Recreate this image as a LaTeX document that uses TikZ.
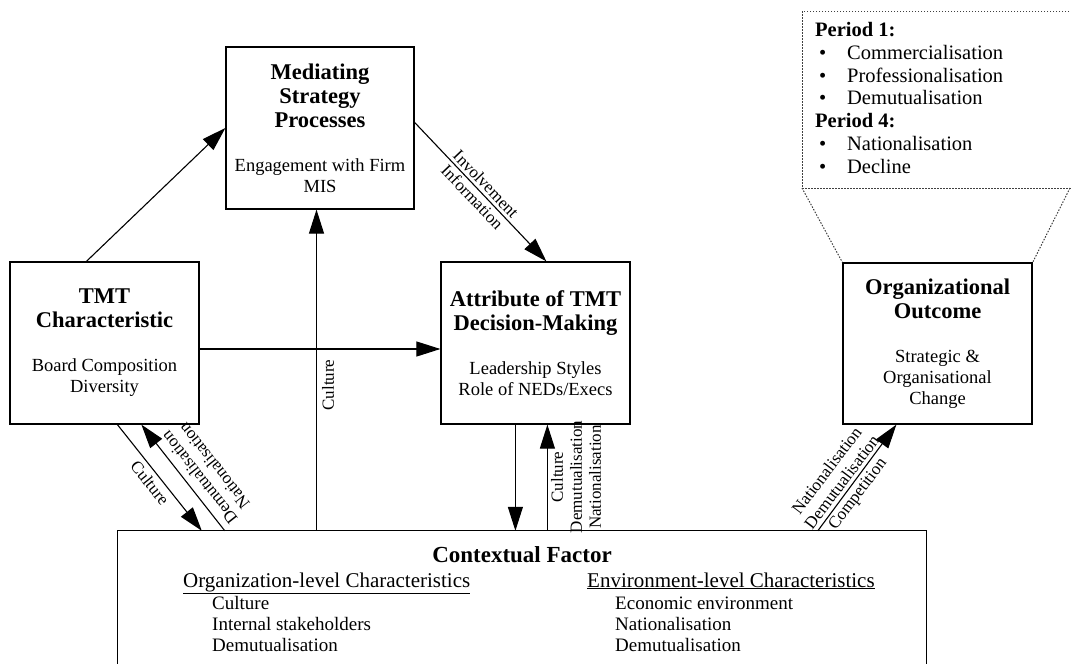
\documentclass[tikz,border=0pt]{standalone}
\usepackage{fontspec}
\setmainfont{Liberation Serif}
\usetikzlibrary{arrows.meta,calc}
\newcommand{\boxtitle}[1]{{\fontsize{22.5}{24}\selectfont\bfseries #1}}
\begin{document}
\begin{tikzpicture}[x=1pt,y=-1pt,
  box/.style={draw, line width=1.2pt, inner sep=0pt, align=center,
    minimum width=189pt, minimum height=162pt,
    font=\fontsize{18.5}{21}\selectfont},
  boxline/.style={line width=1.2pt},
  arr/.style={line width=1.1pt, -{Triangle[length=24pt,width=15pt]}},
  lab/.style={font=\fontsize{17}{19}\selectfont, align=center, inner sep=0pt},
  ctxtext/.style={font=\fontsize{19}{21}\selectfont, inner sep=0pt, anchor=base west},
  ctxhead/.style={font=\fontsize{21}{23}\selectfont, inner sep=0pt, anchor=base west},
  dotline/.style={line width=1pt, black!75, dash pattern=on 1.5pt off 1.5pt},
]
\useasboundingbox (0,0) rectangle (1071,664);

% boxes
\node[box] (tmt) at (104.5,343) {\boxtitle{TMT}\\[3pt]\boxtitle{Characteristic}\\[23pt]Board Composition\\Diversity};
\node[box, minimum width=188pt] (med) at (320,128) {\boxtitle{Mediating}\\[3pt]\boxtitle{Strategy}\\[3pt]\boxtitle{Processes}\\[23pt]Engagement with Firm\\MIS};
\node[box] (attr) at (535.5,343) {\boxtitle{Attribute of TMT}\\[3pt]\boxtitle{Decision-Making}\\[23pt]Leadership Styles\\Role of NEDs/Execs};
\node[box, minimum height=161pt] (out) at (937.5,343.5) {\boxtitle{Organizational}\\[3pt]\boxtitle{Outcome}\\[23pt]Strategic \&\\Organisational\\Change};

% contextual box (runs past the bottom edge)
\node[minimum width=808pt, minimum height=133pt, inner sep=0pt] (ctx) at (522,597.5) {};
\draw[boxline] (ctx.south west) -- (ctx.north west) -- (ctx.north east) -- (ctx.south east);
\node[inner sep=0pt, anchor=base, font=\fontsize{23}{25}\selectfont\bfseries] (ctxt) at (522,562) {Contextual Factor};
\node[ctxhead] (orgh) at (183,587) {\underline{Organization-level Characteristics}};
\node[ctxtext] (org1) at (212,609) {Culture};
\node[ctxtext] (org2) at (212,630) {Internal stakeholders};
\node[ctxtext] (org3) at (212,651) {Demutualisation};
\node[ctxhead] (envh) at (587,587) {\underline{Environment-level Characteristics}};
\node[ctxtext] (env1) at (615,609) {Economic environment};
\node[ctxtext] (env2) at (615,630) {Nationalisation};
\node[ctxtext] (env3) at (615,651) {Demutualisation};

% period call-out
\node[anchor=north west, inner sep=0pt, align=left, font=\fontsize{20.5}{22.8}\selectfont] (periods) at (815,22)
  {\textbf{Period 1:}\\
   \makebox[32pt][l]{\hspace{4pt}•}Commercialisation\\
   \makebox[32pt][l]{\hspace{4pt}•}Professionalisation\\
   \makebox[32pt][l]{\hspace{4pt}•}Demutualisation\\
   \textbf{Period 4:}\\
   \makebox[32pt][l]{\hspace{4pt}•}Nationalisation\\
   \makebox[32pt][l]{\hspace{4pt}•}Decline};
\coordinate (ptl) at (802,11);
\coordinate (ptr) at (1072,11);
\coordinate (pbl) at (802,188);
\coordinate (pbr) at (1070,188);
\coordinate (pbe) at (1072,188);
\draw[dotline] (ptr) -- (ptl) -- (pbl) -- (pbe);
\draw[dotline] (pbl) -- (out.north west);
\draw[dotline] (pbr) -- (out.north east);

% connectors
\draw[arr] ($(tmt.north west)+(77,0)$) -- (med.west);
\draw[arr] ($(med.north east)+(0,76)$) -- ($(attr.north west)+(106,0)$)
  node[lab, pos=0.49, rotate=-46.3] (invl) {Involvement\\Information};
\draw[arr] ($(tmt.east)+(0,6)$) -- ($(attr.west)+(0,6)$);

\coordinate (m4) at ($(med.south)+(-3.5,0)$);
\draw[arr] (m4 |- ctx.north) -- (m4);
\node[lab, rotate=90] (cul1) at (328,385) {Culture};

\coordinate (a5) at ($(attr.south west)+(75,0)$);
\draw[arr] (a5) -- (a5 |- ctx.north);
\coordinate (a6) at ($(attr.south west)+(107,0)$);
\draw[arr] (a6 |- ctx.north) -- (a6);
\node[lab, rotate=90] (cul2) at (576,477) {Culture\\Demutualisation\\Nationalisation};

\draw[arr] ($(tmt.south west)+(108,0)$) -- ($(ctx.north west)+(84,0)$);
\node[lab, rotate=-51.3] (cul3) at (150,483) {Culture};
\draw[arr] ($(ctx.north west)+(107,0)$) -- ($(tmt.south west)+(132,0)$);
\node[lab, rotate=128.3] (demnat) at (206.5,472) {Demutualisation\\Nationalisation};

\draw[arr] ($(ctx.north west)+(700,0)$) -- ($(out.south west)+(54,0)$);
\node[lab, rotate=53] (ndc) at (843,483) {Nationalisation\\Demutualisation\\Competition};
\end{tikzpicture}
\end{document}
